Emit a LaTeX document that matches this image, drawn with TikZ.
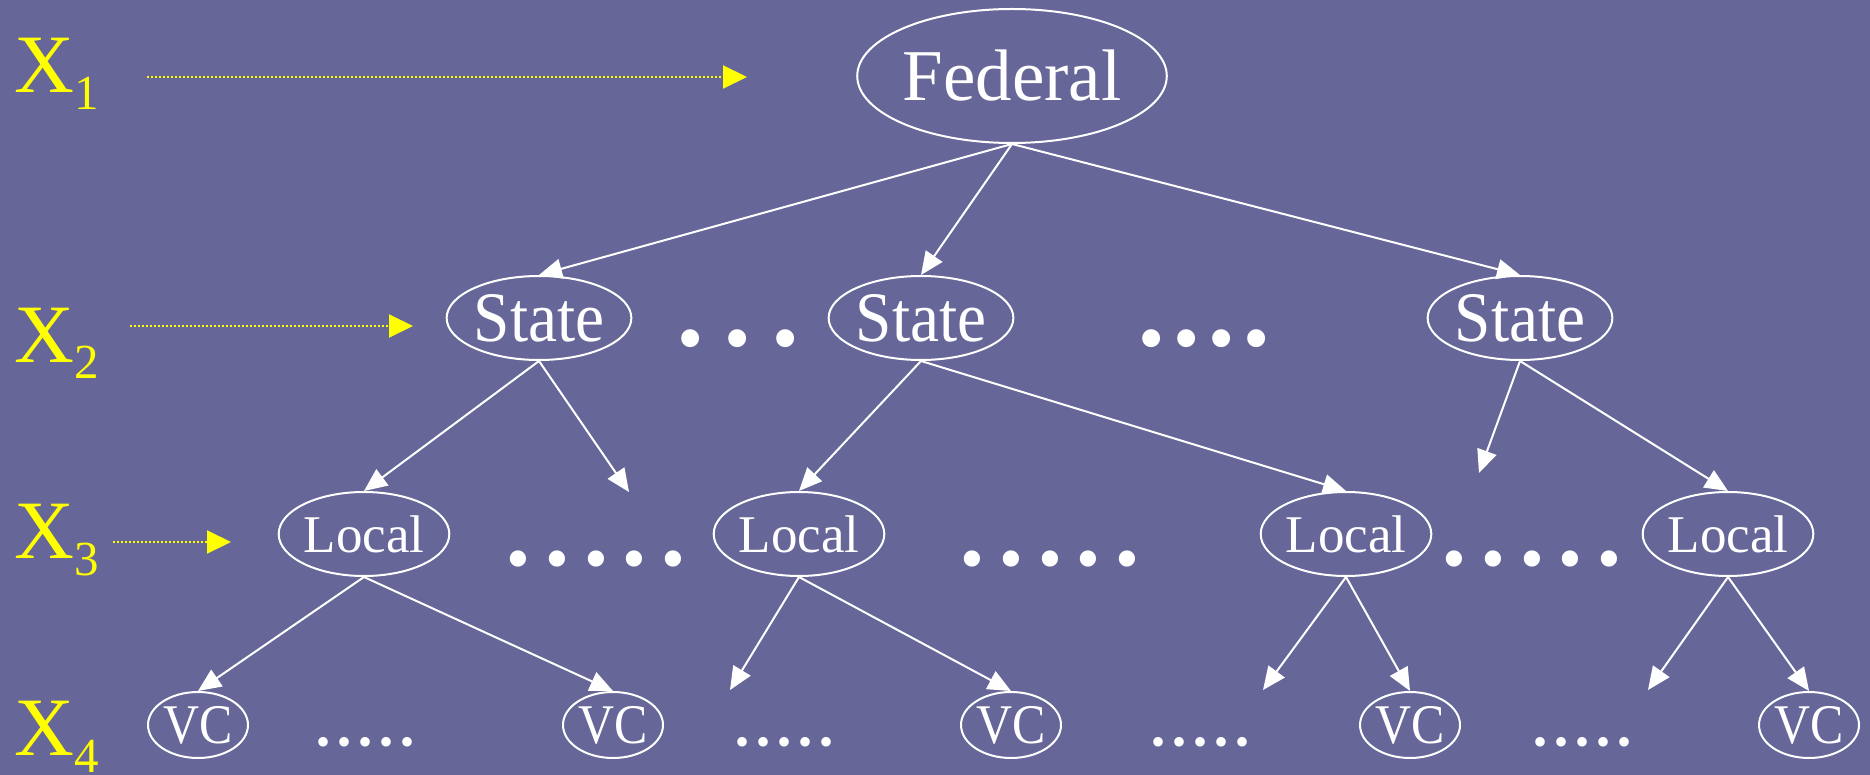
\documentclass[tikz,border=0pt]{standalone}
\usepackage{fontspec}
\setmainfont{Liberation Serif}
\newfontfamily\narrowA[FakeStretch=0.92]{Liberation Serif}
\newfontfamily\narrowB[FakeStretch=0.89]{Liberation Serif}
\usetikzlibrary{shapes.geometric,arrows.meta}
\definecolor{bg}{RGB}{102,102,153}
\definecolor{ylw}{RGB}{255,255,0}
\newcommand\fsz[1]{\fontsize{#1}{#1}\selectfont}
\newcommand\xsub[1]{\raisebox{-17pt}{\fsz{49}#1}}
\begin{document}
\begin{tikzpicture}[x=1pt,y=-1pt,
  nd/.style={draw=white,line width=2pt,ellipse,inner sep=0pt,text=white},
  fedbox/.style={nd,minimum width=300pt,minimum height=134pt,font=\fsz{73}},
  statebox/.style={nd,minimum width=184pt,minimum height=84pt,font=\narrowA\fsz{71}},
  localbox/.style={nd,minimum width=168pt,minimum height=84pt,font=\fsz{53}},
  vcbox/.style={nd,minimum width=100pt,minimum height=66pt,font=\narrowB\fsz{56}},
  edge/.style={draw=white,line width=2pt,-{Triangle[length=23pt,width=20pt]}},
  yarrow/.style={draw=ylw,line width=2pt,dash pattern=on 2pt off 2pt,-{Triangle[length=24pt,width=23pt]}},
  xlabel/.style={text=ylw,font=\fsz{83},inner sep=0pt,anchor=base west},
  dotsbig/.style={text=white,inner sep=0pt,font=\fsz{75}},
  dotsmid/.style={text=white,inner sep=0pt,font=\fsz{68}},
  dotssmall/.style={text=white,inner sep=0pt,font=\fsz{40}}
]
\fill[bg] (0,0) rectangle (1870,775);
\useasboundingbox (0,0) rectangle (1870,775);

% level labels
\node[xlabel] (x1) at (14,93) {X\xsub{1}};
\node[xlabel] (x2) at (14,362) {X\xsub{2}};
\node[xlabel] (x3) at (14,558) {X\xsub{3}};
\node[xlabel] (x4) at (14,755) {X\xsub{4}};

\coordinate (y1s) at (147,77);  \coordinate (y1e) at (747,77);
\coordinate (y2s) at (130,326); \coordinate (y2e) at (413,326);
\coordinate (y3s) at (113,542); \coordinate (y3e) at (231,542);
\draw[yarrow] (y1s) -- (y1e);
\draw[yarrow] (y2s) -- (y2e);
\draw[yarrow] (y3s) -- (y3e);

% nodes
\node[fedbox] (fed) at (1012,76) {Federal};
\node[statebox] (s1) at (539,318) {State};
\node[statebox] (s2) at (921,318) {State};
\node[statebox] (s3) at (1520,318) {State};
\node[localbox] (l1) at (364,534) {Local};
\node[localbox] (l2) at (799,534) {Local};
\node[localbox] (l3) at (1346,534) {Local};
\node[localbox] (l4) at (1728,534) {Local};
\node[vcbox] (v1) at (198,725) {VC};
\node[vcbox] (v2) at (613,725) {VC};
\node[vcbox] (v3) at (1011,725) {VC};
\node[vcbox] (v4) at (1410,725) {VC};
\node[vcbox] (v5) at (1809,725) {VC};

% ellipsis dots
\node[dotsbig] (d21) at (738,347) {•\kern21pt•\kern21pt•};
\node[dotsbig] (d22) at (1204,347) {•\kern9pt•\kern9pt•\kern9pt•};
\node[dotsmid] (d31) at (596,566) {•\kern15pt•\kern15pt•\kern15pt•\kern15pt•};
\node[dotsmid] (d32) at (1050,566) {•\kern15pt•\kern15pt•\kern15pt•\kern15pt•};
\node[dotsmid] (d33) at (1532,566) {•\kern15pt•\kern15pt•\kern15pt•\kern15pt•};
\node[dotssmall] (d41) at (366,746) {•\kern7pt•\kern7pt•\kern7pt•\kern7pt•};
\node[dotssmall] (d42) at (784,746) {•\kern7pt•\kern7pt•\kern7pt•\kern7pt•};
\node[dotssmall] (d43) at (1200,746) {•\kern7pt•\kern7pt•\kern7pt•\kern7pt•};
\node[dotssmall] (d44) at (1582,746) {•\kern7pt•\kern7pt•\kern7pt•\kern7pt•};

% dangling ends
\coordinate (e1) at (629,492);
\coordinate (e2) at (1479,473);
\coordinate (e3) at (730,690);
\coordinate (e4) at (1263,690);
\coordinate (e5) at (1648,690);

% edges
\draw[edge] (fed.south) -- (s1.north);
\draw[edge] (fed.south) -- (s2.north);
\draw[edge] (fed.south) -- (s3.north);
\draw[edge] (s1.south) -- (l1.north);
\draw[edge] (s1.south) -- (e1);
\draw[edge] (s2.south) -- (l2.north);
\draw[edge] (s2.south) -- (l3.north);
\draw[edge] (s3.south) -- (e2);
\draw[edge] (s3.south) -- (l4.north);
\draw[edge] (l1.south) -- (v1.north);
\draw[edge] (l1.south) -- (v2.north);
\draw[edge] (l2.south) -- (e3);
\draw[edge] (l2.south) -- (v3.north);
\draw[edge] (l3.south) -- (e4);
\draw[edge] (l3.south) -- (v4.north);
\draw[edge] (l4.south) -- (e5);
\draw[edge] (l4.south) -- (v5.north);
\end{tikzpicture}
\end{document}
